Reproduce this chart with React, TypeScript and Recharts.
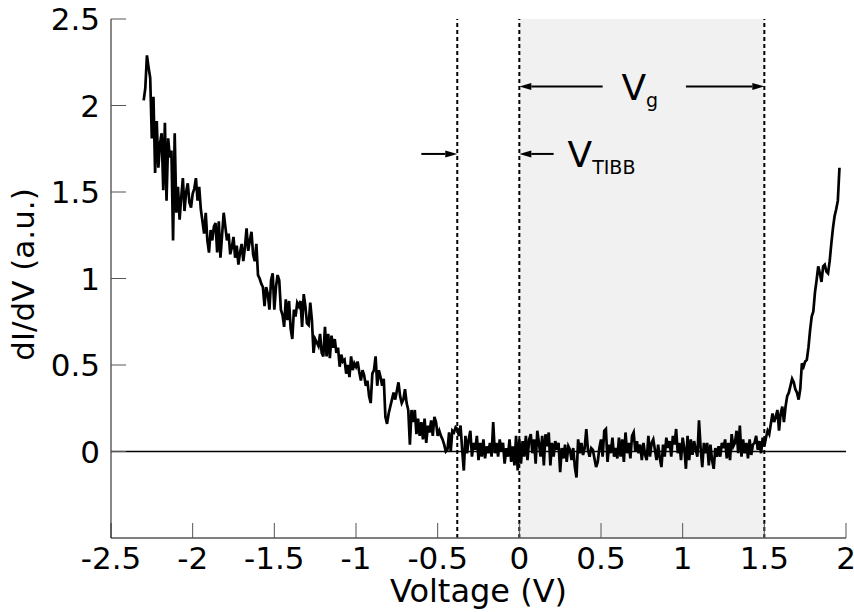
import {
  LineChart,
  Line,
  XAxis,
  YAxis,
  ReferenceArea,
  ReferenceLine,
  ReferenceDot,
} from "recharts"

// sampling grid of the sweep (V)
const V_START = -2.3
const V_STEP = 0.01

// dI/dV (a.u.), -2.30 .. -0.71 V
const didvLeft = [
  2.03, 2.1, 2.29, 2.22, 2.16, 1.81, 2.05, 1.61, 1.91, 1.64,
  1.78, 1.84, 1.51, 1.9, 1.45, 1.81, 1.7, 1.74, 1.22, 1.84,
  1.38, 1.53, 1.34, 1.47, 1.58, 1.39, 1.5, 1.55, 1.44, 1.41,
  1.49, 1.52, 1.58, 1.45, 1.53, 1.4, 1.33, 1.26, 1.38, 1.22,
  1.15, 1.28, 1.22, 1.3, 1.32, 1.15, 1.33, 1.12, 1.25, 1.38,
  1.3, 1.22, 1.26, 1.14, 1.18, 1.24, 1.12, 1.19, 1.08, 1.15,
  1.2, 1.1, 1.18, 1.29, 1.16, 1.22, 1.27, 1.14, 1.1, 1.2,
  1.02, 1.0, 0.97, 0.95, 0.84, 0.95, 0.91, 0.82, 0.99, 1.03,
  0.82, 0.95, 1.02, 0.99, 0.82, 0.79, 0.72, 0.88, 0.76, 0.87,
  0.71, 0.65, 0.82, 0.78, 0.86, 0.84, 0.87, 0.72, 0.91, 0.84,
  0.74, 0.73, 0.86, 0.76, 0.57, 0.65, 0.63, 0.61, 0.68, 0.57,
  0.55, 0.72, 0.55, 0.68, 0.54, 0.67, 0.6, 0.65, 0.57, 0.6,
  0.49, 0.56, 0.52, 0.53, 0.45, 0.5, 0.43, 0.55, 0.47, 0.51,
  0.49, 0.52, 0.46, 0.41, 0.47, 0.44, 0.38, 0.41, 0.32, 0.28,
  0.45, 0.47, 0.55, 0.38, 0.47, 0.43, 0.38, 0.42, 0.2, 0.16,
  0.22, 0.26, 0.3, 0.34, 0.3, 0.35, 0.4, 0.32, 0.28, 0.3,
]

// -0.70 .. 1.49 V, around the gap
const didvGap = [
  0.36, 0.28, 0.24, 0.04, 0.24, 0.17, 0.24, 0.1, 0.19, 0.09,
  0.17, 0.07, 0.19, 0.05, 0.15, 0.11, 0.18, 0.09, 0.2, 0.17,
  0.09, 0.12, 0.09, 0.07, 0.04, 0.0, 0.01, 0.11, 0.0, 0.12,
  0.11, 0.14, 0.13, 0.09, 0.15, 0.01, -0.11, 0.09, -0.01, 0.07,
  0.12, -0.03, 0.05, 0.01, 0.09, -0.05, 0.05, -0.03, 0.07, -0.04,
  0.03, -0.01, 0.05, -0.03, 0.17, -0.01, 0.05, -0.03, 0.07, 0.0,
  0.05, -0.07, 0.02, -0.03, 0.07, -0.06, 0.03, -0.08, 0.09, -0.11,
  0.07, -0.07, 0.06, -0.03, 0.09, -0.05, 0.07, 0.1, -0.01, 0.07,
  -0.07, 0.12, 0.05, -0.03, 0.09, -0.08, 0.1, 0.03, 0.11, -0.08,
  0.05, -0.03, 0.06, 0.01, 0.05, -0.12, 0.02, -0.04, 0.04, -0.06,
  0.03, 0.01, -0.05, 0.02, -0.09, -0.15, 0.07, -0.01, 0.05, -0.02,
  0.02, 0.13, 0.01, -0.03, 0.02, 0.01, -0.04, -0.09, -0.06, 0.02,
  0.07, -0.03, 0.12, 0.13, -0.06, 0.04, -0.01, 0.08, -0.03, 0.02,
  -0.04, 0.08, -0.03, 0.07, -0.06, 0.11, -0.01, 0.05, -0.04, 0.09,
  0.11, 0.0, 0.06, -0.01, 0.04, -0.05, 0.05, -0.02, -0.05, 0.09,
  -0.03, 0.05, 0.07, 0.01, -0.05, 0.04, -0.04, -0.09, 0.04, -0.03,
  0.08, 0.02, 0.06, -0.03, 0.09, 0.04, 0.13, -0.01, 0.05, -0.05,
  0.08, 0.02, -0.1, 0.09, -0.05, 0.07, -0.02, 0.06, 0.01, -0.03,
  0.18, 0.02, -0.09, 0.05, -0.01, 0.05, -0.08, 0.04, -0.05, -0.1,
  0.02, -0.03, 0.03, -0.03, 0.05, 0.02, 0.07, -0.04, 0.05, -0.05,
  0.1, 0.03, 0.05, 0.12, -0.01, 0.15, -0.03, 0.07, -0.01, 0.05,
  -0.04, 0.07, -0.02, 0.04, 0.05, 0.09, 0.01, 0.06, -0.01, 0.08,
]

// 1.50 .. 1.96 V, conduction band onset
const didvRight = [
  0.03, 0.08, 0.12, 0.1, 0.16, 0.22, 0.17, 0.2, 0.24, 0.12,
  0.22, 0.26, 0.17, 0.26, 0.32, 0.34, 0.38, 0.42, 0.4, 0.36,
  0.34, 0.3, 0.36, 0.51, 0.49, 0.52, 0.53, 0.6, 0.7, 0.78,
  0.81, 0.92, 0.99, 1.07, 1.03, 0.98, 1.07, 1.08, 1.04, 1.03,
  1.1, 1.2, 1.29, 1.36, 1.4, 1.45, 1.64,
]

const xTicks = [-2.5, -2, -1.5, -1, -0.5, 0, 0.5, 1, 1.5, 2]
const yTicks = [0, 0.5, 1, 1.5, 2, 2.5]

const V_TIBB = -0.38
const GAP_START = 0
const GAP_END = 1.5

const FONT = "DejaVu Sans"

const data = [...didvLeft, ...didvGap, ...didvRight].map((v, i) => ({
  voltage: Number((V_START + i * V_STEP).toFixed(2)),
  didv: v,
}))

function Arrow(props: any) {
  const { x1, y1, x2, y2 } = props
  const dir = Math.sign(x2 - x1) || 1
  const len = 12
  const half = 3.5
  return (
    <g>
      <line x1={x1} y1={y1} x2={x2 - dir * len} y2={y2} stroke="#000" strokeWidth={2} />
      <polygon
        points={`${x2},${y2} ${x2 - dir * len},${y2 - half} ${x2 - dir * len},${y2 + half}`}
        fill="#000"
      />
    </g>
  )
}

function SubLabel({ cx, cy, main, sub }: any) {
  return (
    <text x={cx} y={cy} fontFamily={FONT} fill="#000">
      <tspan fontSize={36}>{main}</tspan>
      <tspan fontSize={19} dy={7}>
        {sub}
      </tspan>
    </text>
  )
}

export default function App() {
  return (
    <div style={{ position: "absolute", left: 0, top: 0, background: "#fff" }}>
      <LineChart
        width={854}
        height={612}
        data={data}
        margin={{ top: 19, right: 8, bottom: 0, left: 0 }}
      >
        <ReferenceArea
          x1={GAP_START}
          x2={GAP_END}
          y1={-0.5}
          y2={2.5}
          fill="#f1f1f1"
          fillOpacity={1}
          stroke="none"
        />
        <XAxis
          dataKey="voltage"
          type="number"
          domain={[-2.5, 2]}
          ticks={xTicks}
          height={74}
          tickSize={-15}
          tickMargin={24}
          stroke="#555"
          strokeWidth={1.5}
          tickLine={{ stroke: "#555", strokeWidth: 1 }}
          tick={{ fill: "#000", fontSize: 31, fontFamily: FONT }}
          label={{
            content: ({ viewBox }: any) => (
              <text
                x={viewBox.x + viewBox.width / 2}
                y={602}
                textAnchor="middle"
                fontFamily={FONT}
                fontSize={32}
                fill="#000"
              >
                Voltage (V)
              </text>
            ),
          }}
        />
        <YAxis
          type="number"
          domain={[-0.5, 2.5]}
          ticks={yTicks}
          width={111}
          tickSize={-15}
          tickMargin={26}
          stroke="#111"
          tickLine={{ stroke: "#555", strokeWidth: 1 }}
          tick={{ fill: "#000", fontSize: 31, fontFamily: FONT }}
          label={{
            content: ({ viewBox }: any) => {
              const cx = 23
              const cy = viewBox.y + viewBox.height / 2 - 4
              return (
                <text
                  x={cx}
                  y={cy}
                  transform={`rotate(-90, ${cx}, ${cy})`}
                  textAnchor="middle"
                  dominantBaseline="central"
                  fontFamily={FONT}
                  fontSize={31}
                  fill="#000"
                >
                  dI/dV (a.u.)
                </text>
              )
            },
          }}
        />
        <ReferenceLine y={0} stroke="#000" strokeWidth={1.6} />
        {[V_TIBB, GAP_START, GAP_END].map((x) => (
          <ReferenceLine key={x} x={x} stroke="#000" strokeWidth={2} strokeDasharray="4 3" />
        ))}
        <Line
          type="linear"
          dataKey="didv"
          stroke="#000"
          strokeWidth={2.7}
          dot={false}
          isAnimationActive={false}
        />
        <ReferenceLine segment={[{ x: 0.51, y: 2.11 }, { x: GAP_START, y: 2.11 }]} shape={Arrow} />
        <ReferenceLine segment={[{ x: 1.02, y: 2.11 }, { x: GAP_END, y: 2.11 }]} shape={Arrow} />
        <ReferenceLine segment={[{ x: -0.6, y: 1.72 }, { x: V_TIBB, y: 1.72 }]} shape={Arrow} />
        <ReferenceLine segment={[{ x: 0.21, y: 1.72 }, { x: GAP_START, y: 1.72 }]} shape={Arrow} />
        <ReferenceDot
          x={0.625}
          y={2.033}
          shape={(p: any) => <SubLabel {...p} main="V" sub="g" />}
        />
        <ReferenceDot
          x={0.295}
          y={1.647}
          shape={(p: any) => <SubLabel {...p} main="V" sub="TIBB" />}
        />
      </LineChart>
    </div>
  )
}
